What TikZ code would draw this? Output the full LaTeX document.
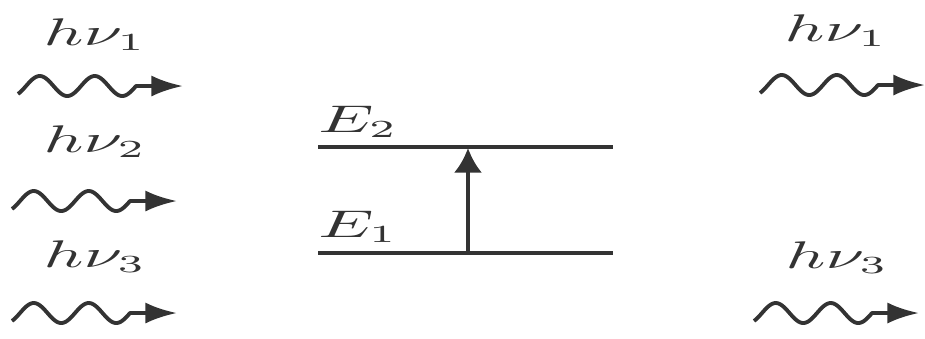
\documentclass[tikz,border=0pt]{standalone}
\usetikzlibrary{arrows.meta}
\newcommand\photonarrow[3]{%
  \begin{scope}[shift={(#2,#3)}]
    \coordinate (#1e) at (165,0);
    \draw[photon] plot[domain=0:118,samples=80] (\x,{-10*sin((\x-8)*6.545)}) -- (#1e);
  \end{scope}}
\begin{document}
\begin{tikzpicture}[x=0.01cm,y=-0.01cm,
  level/.style={line width=1.1pt, draw=black!80},
  photon/.style={line width=1.1pt, draw=black!80, line join=round, -{Latex[length=9pt,width=6pt]}},
  lab/.style={inner sep=0pt, anchor=base, xscale=1.8, font=\fontsize{10.5}{12}\selectfont, text=black!80},
  elab/.style={lab, anchor=base west}]
\useasboundingbox (0,0) rectangle (925,338);
% left photons
\node[lab] (l1) at (95,45) {$h\nu_1$};
\node[lab] (l2) at (95,152) {$h\nu_2$};
\node[lab] (l3) at (95,267) {$h\nu_3$};
\photonarrow{pa}{18}{86}
\photonarrow{pb}{12}{201}
\photonarrow{pc}{12}{313}
% right photons
\node[lab] (r1) at (836,41) {$h\nu_1$};
\node[lab] (r3) at (837,268) {$h\nu_3$};
\photonarrow{pd}{760}{85}
\photonarrow{pe}{754}{313}
% levels
\coordinate (e2a) at (318,147);
\coordinate (e2b) at (613,147);
\coordinate (e1a) at (318,253);
\coordinate (e1b) at (613,253);
\draw[level] (e2a) -- (e2b);
\draw[level] (e1a) -- (e1b);
\node[elab] (E2) at (317,132) {$E_2$};
\node[elab] (E1) at (317,237) {$E_1$};
\coordinate (up0) at (468,253);
\coordinate (up1) at (468,148);
\draw[level, -{Latex[length=7pt,width=8pt]}] (up0) -- (up1);
\end{tikzpicture}
\end{document}
